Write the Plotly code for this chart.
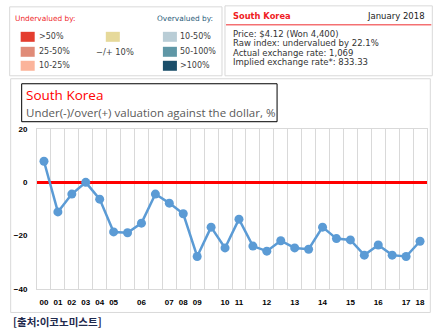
import plotly.graph_objects as go

# ---- data ----
year_labels = ["00", "01", "02", "03", "04", "05", "", "06", "", "07", "08", "09", "",
               "10", "11", "", "12", "", "13", "", "14", "", "15", "", "16", "", "17", "18"]
valuation = [7.9, -11.1, -4.4, 0.0, -6.3, -18.6, -18.9, -15.3, -4.4, -7.8, -11.8, -27.8, -16.8,
             -24.6, -13.8, -23.9, -25.8, -21.9, -24.6, -25.1, -16.8, -21.1, -21.6, -27.3,
             -23.5, -27.3, -27.8, -22.1]
y_ticks = [-40, -20, 0, 20]

under_labels = [">50%", "25-50%", "10-25%"]
under_colors = ["#e43d2f", "#e08b78", "#fbb49b"]
mid_label = "\u2212/+ 10%"
mid_color = "#e6d99a"
over_labels = ["10-50%", "50-100%", ">100%"]
over_colors = ["#b9cdd6", "#5f97a6", "#1a4e6a"]

info_lines = ["Price: $4.12 (Won 4,400)",
              "Raw index: undervalued by 22.1%",
              "Actual exchange rate: 1,069",
              "Implied exchange rate*: 833.33"]

W, H = 445, 336
L, R, T, B = 37.3, 426.7, 129.3, 289.5


def px(x):
    return (x - L) / (R - L)


def py(y):
    return (B - y) / (B - T)


xs = list(range(len(valuation)))
tickvals = [i for i, t in enumerate(year_labels) if t]
ticktext = [t for t in year_labels if t]

fig = go.Figure()
fig.add_trace(go.Scatter(
    x=xs, y=valuation, mode="lines+markers",
    line=dict(color="#5b9bd5", width=2.5),
    marker=dict(color="#5b9bd5", size=9),
    hoverinfo="skip", showlegend=False))

shapes = []
annotations = []


def rect(x0, y0, x1, y1, line_color=None, fill=None, width=1):
    shapes.append(dict(type="rect", xref="paper", yref="paper",
                       x0=px(x0), x1=px(x1), y0=py(y1), y1=py(y0),
                       line=dict(color=line_color or "rgba(0,0,0,0)", width=width if line_color else 0),
                       fillcolor=fill or "rgba(0,0,0,0)", layer="below"))


def text(x, y, s, size, color, anchor="left", family="DejaVu Sans", bold=False):
    if bold:
        s = "<b>" + s + "</b>"
    annotations.append(dict(xref="paper", yref="paper", x=px(x), y=py(y), text=s,
                            showarrow=False, xanchor=anchor, yanchor="middle",
                            font=dict(size=size, color=color, family=family)))


# legend box
rect(10, 7, 222, 76, line_color="#d9d9d9")
text(13, 19, "Undervalued by:", 7.4, "#ef2b2d")
text(155, 19, "Overvalued by:", 7.4, "#2b5d7a")
rows_y = [37, 52, 66]
for i in range(3):
    rect(21, rows_y[i] - 5, 35, rows_y[i] + 5, fill=under_colors[i])
    text(37, rows_y[i], under_labels[i], 8, "#404040")
    rect(163, rows_y[i] - 5, 177, rows_y[i] + 5, fill=over_colors[i])
    text(178, rows_y[i], over_labels[i], 8, "#404040")
rect(106, 32, 120, 42, fill=mid_color)
text(94, 52, mid_label, 8.3, "#404040")

# info box
rect(225, 6, 432, 76, line_color="#d9d9d9")
shapes.append(dict(type="line", xref="paper", yref="paper", x0=px(226), x1=px(431),
                   y0=py(25), y1=py(25), line=dict(color="#ef2b2d", width=1)))
text(231, 16.5, "South Korea", 8.3, "#ef1c24", bold=True)
text(427, 16.5, "January 2018", 8.5, "#222222", anchor="right")
for i, s in enumerate(info_lines):
    text(231, 34 + i * 9.4, s, 8.5, "#333333")

# main chart box
rect(11, 79, 430, 313, line_color="#d9d9d9")
rect(22, 84, 277, 122, line_color="#000000")
text(24, 95.5, "South Korea", 13.5, "#ff0000", family="Open Sans")
text(24, 113, "Under(-)/over(+) valuation against the dollar, %", 11.5, "#595959", family="Open Sans")

# source
text(11, 322.5, "[출처:이코노미스트]", 10.5, "#1f2a4e", family="Noto Sans CJK KR", bold=True)

fig.update_layout(
    width=W, height=H,
    margin=dict(l=L, r=W - R, t=T, b=H - B),
    paper_bgcolor="white", plot_bgcolor="white",
    shapes=shapes, annotations=annotations,
    xaxis=dict(range=[-0.5, len(valuation) - 0.5], tickmode="array",
               tickvals=tickvals, ticktext=ticktext, showgrid=False,
               zeroline=False, showline=True, mirror=True, linecolor="#d9d9d9", linewidth=1,
               ticks="", ticklabelstandoff=5,
               tickfont=dict(family="Liberation Sans", size=8, color="#000000", weight="bold"),
               minor=dict(tickmode="linear", tick0=-0.5, dtick=1, showgrid=True,
                          gridcolor="#d9d9d9", gridwidth=1, ticks=""),
               fixedrange=True),
    yaxis=dict(range=[-40, 20], tickmode="array", tickvals=y_ticks, showgrid=False,
               zeroline=True, zerolinecolor="#ff0000", zerolinewidth=2.5,
               showline=True, mirror=True, linecolor="#d9d9d9", linewidth=1,
               ticks="", ticklabelstandoff=7,
               tickfont=dict(family="Liberation Sans", size=8, color="#000000", weight="bold"),
               fixedrange=True),
)
fig.write_html("out.html", config={"displayModeBar": False})
